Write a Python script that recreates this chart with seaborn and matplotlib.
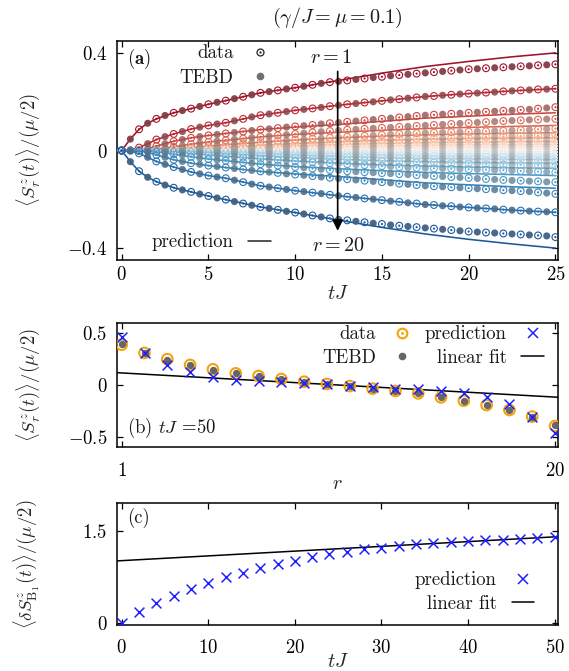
import numpy as np
import pandas as pd
import matplotlib
matplotlib.use("Agg")
import matplotlib.pyplot as plt
import seaborn as sns
from matplotlib.lines import Line2D

# ---------------- panel (a): <S^z_r(t)> for r = 1..20 ----------------
R_VALUES = list(range(1, 21))
T_PRED = [0, 0.5, 1, 1.5, 2, 3, 4, 5, 6, 8, 10, 12.5, 15, 17.5, 20, 22.5, 25]
T_NUM = list(np.arange(0, 25.001, 0.5))   # data at integer tJ, TEBD at half-integer tJ

PRED_R1 = [0, 0.047, 0.087, 0.112, 0.130, 0.155, 0.172, 0.190, 0.205, 0.237, 0.258, 0.288, 0.318, 0.345, 0.366, 0.385, 0.401]
PRED_R2 = [0, 0.003, 0.012, 0.028, 0.045, 0.068, 0.088, 0.103, 0.114, 0.145, 0.165, 0.186, 0.204, 0.222, 0.234, 0.245, 0.254]
PRED_R3 = [0, 0.000, 0.002, 0.008, 0.018, 0.038, 0.052, 0.062, 0.070, 0.086, 0.096, 0.107, 0.120, 0.133, 0.141, 0.149, 0.155]
PRED_R4 = [0, 0, 0, 0.002, 0.005, 0.015, 0.026, 0.035, 0.042, 0.056, 0.066, 0.075, 0.083, 0.090, 0.095, 0.099, 0.103]
PRED_R5 = [0, 0, 0, 0, 0.001, 0.006, 0.012, 0.018, 0.024, 0.034, 0.043, 0.052, 0.059, 0.064, 0.068, 0.071, 0.073]
PRED_R6 = [0, 0, 0, 0, 0, 0.002, 0.005, 0.009, 0.013, 0.021, 0.028, 0.036, 0.042, 0.046, 0.049, 0.051, 0.052]
PRED_R7 = [0, 0, 0, 0, 0, 0, 0.002, 0.004, 0.007, 0.012, 0.018, 0.024, 0.029, 0.032, 0.034, 0.036, 0.037]
PRED_R8 = [0, 0, 0, 0, 0, 0, 0, 0.001, 0.003, 0.006, 0.010, 0.014, 0.018, 0.021, 0.023, 0.024, 0.025]
PRED_R9 = [0, 0, 0, 0, 0, 0, 0, 0, 0.001, 0.003, 0.005, 0.008, 0.010, 0.012, 0.013, 0.014, 0.015]
PRED_R10 = [0, 0, 0, 0, 0, 0, 0, 0, 0, 0.001, 0.002, 0.003, 0.003, 0.004, 0.004, 0.005, 0.005]
PRED_R11 = [0, 0, 0, 0, 0, 0, 0, 0, 0, -0.001, -0.002, -0.003, -0.003, -0.004, -0.004, -0.005, -0.005]
PRED_R12 = [0, 0, 0, 0, 0, 0, 0, 0, -0.001, -0.003, -0.005, -0.008, -0.010, -0.012, -0.013, -0.014, -0.015]
PRED_R13 = [0, 0, 0, 0, 0, 0, 0, -0.001, -0.003, -0.006, -0.010, -0.014, -0.018, -0.021, -0.023, -0.024, -0.025]
PRED_R14 = [0, 0, 0, 0, 0, 0, -0.002, -0.004, -0.007, -0.012, -0.018, -0.024, -0.029, -0.032, -0.034, -0.036, -0.037]
PRED_R15 = [0, 0, 0, 0, 0, -0.002, -0.005, -0.009, -0.013, -0.021, -0.028, -0.036, -0.042, -0.046, -0.049, -0.051, -0.052]
PRED_R16 = [0, 0, 0, 0, -0.001, -0.006, -0.012, -0.018, -0.024, -0.034, -0.043, -0.052, -0.059, -0.064, -0.068, -0.071, -0.073]
PRED_R17 = [0, 0, 0, -0.002, -0.005, -0.015, -0.026, -0.035, -0.042, -0.056, -0.066, -0.075, -0.083, -0.090, -0.095, -0.099, -0.103]
PRED_R18 = [0, 0, -0.002, -0.008, -0.018, -0.038, -0.052, -0.062, -0.070, -0.086, -0.096, -0.107, -0.120, -0.133, -0.141, -0.149, -0.155]
PRED_R19 = [0, -0.003, -0.012, -0.028, -0.045, -0.068, -0.088, -0.103, -0.114, -0.145, -0.165, -0.186, -0.204, -0.222, -0.234, -0.245, -0.254]
PRED_R20 = [0, -0.046, -0.085, -0.110, -0.128, -0.153, -0.170, -0.187, -0.202, -0.232, -0.255, -0.286, -0.316, -0.343, -0.365, -0.384, -0.401]

NUM_R1 = [0, 0.047, 0.087, 0.112, 0.130, 0.144, 0.155, 0.164, 0.172, 0.181, 0.190, 0.198, 0.205, 0.213, 0.221, 0.229, 0.237, 0.242, 0.247, 0.253, 0.258, 0.264, 0.270, 0.276, 0.281, 0.284, 0.288, 0.292, 0.296, 0.300, 0.303, 0.307, 0.310, 0.313, 0.316, 0.319, 0.322, 0.325, 0.328, 0.331, 0.334, 0.336, 0.338, 0.340, 0.342, 0.344, 0.346, 0.348, 0.350, 0.352, 0.354]
NUM_R2 = [0, 0.003, 0.012, 0.028, 0.045, 0.057, 0.068, 0.078, 0.088, 0.096, 0.103, 0.109, 0.114, 0.122, 0.130, 0.138, 0.145, 0.150, 0.155, 0.160, 0.165, 0.169, 0.173, 0.177, 0.182, 0.186, 0.190, 0.193, 0.197, 0.200, 0.204, 0.208, 0.211, 0.215, 0.218, 0.222, 0.224, 0.227, 0.229, 0.232, 0.234, 0.236, 0.238, 0.240, 0.243, 0.245, 0.247, 0.249, 0.251, 0.252, 0.254]
NUM_R3 = [0, 0, 0.002, 0.008, 0.018, 0.028, 0.038, 0.045, 0.052, 0.057, 0.062, 0.066, 0.070, 0.074, 0.078, 0.082, 0.086, 0.089, 0.092, 0.096, 0.099, 0.102, 0.105, 0.109, 0.112, 0.115, 0.118, 0.121, 0.124, 0.127, 0.130, 0.133, 0.136, 0.139, 0.142, 0.145, 0.147, 0.149, 0.151, 0.153, 0.155, 0.157, 0.159, 0.161, 0.163, 0.165, 0.167, 0.169, 0.172, 0.175, 0.178]
NUM_R4 = [0, 0, 0, 0.002, 0.005, 0.010, 0.015, 0.020, 0.026, 0.031, 0.035, 0.039, 0.042, 0.046, 0.049, 0.053, 0.056, 0.059, 0.062, 0.065, 0.068, 0.071, 0.074, 0.077, 0.080, 0.082, 0.085, 0.087, 0.089, 0.091, 0.093, 0.095, 0.097, 0.099, 0.101, 0.103, 0.105, 0.107, 0.109, 0.111, 0.113, 0.115, 0.117, 0.119, 0.121, 0.123, 0.124, 0.126, 0.127, 0.129, 0.130]
NUM_R5 = [0, 0, 0, 0, 0.001, 0.003, 0.006, 0.009, 0.012, 0.015, 0.018, 0.021, 0.024, 0.027, 0.029, 0.032, 0.034, 0.037, 0.039, 0.042, 0.044, 0.046, 0.048, 0.050, 0.052, 0.054, 0.056, 0.058, 0.060, 0.062, 0.064, 0.066, 0.068, 0.070, 0.071, 0.072, 0.073, 0.074, 0.075, 0.076, 0.077, 0.078, 0.079, 0.080, 0.081, 0.082, 0.084, 0.085, 0.087, 0.088, 0.090]
NUM_R6 = [0, 0, 0, 0, 0, 0.001, 0.002, 0.003, 0.005, 0.007, 0.009, 0.011, 0.013, 0.015, 0.017, 0.019, 0.021, 0.023, 0.025, 0.027, 0.028, 0.030, 0.032, 0.034, 0.035, 0.036, 0.038, 0.039, 0.041, 0.042, 0.043, 0.045, 0.046, 0.047, 0.048, 0.049, 0.050, 0.051, 0.052, 0.053, 0.054, 0.055, 0.056, 0.057, 0.058, 0.059, 0.060, 0.061, 0.062, 0.063, 0.065]
NUM_R7 = [0, 0, 0, 0, 0, 0, 0, 0.001, 0.002, 0.003, 0.004, 0.005, 0.007, 0.008, 0.009, 0.011, 0.012, 0.013, 0.015, 0.016, 0.018, 0.019, 0.020, 0.022, 0.023, 0.024, 0.025, 0.026, 0.027, 0.028, 0.029, 0.030, 0.031, 0.032, 0.033, 0.034, 0.035, 0.036, 0.037, 0.037, 0.038, 0.039, 0.040, 0.040, 0.041, 0.042, 0.042, 0.043, 0.044, 0.044, 0.045]
NUM_R8 = [0, 0, 0, 0, 0, 0, 0, 0, 0, 0.001, 0.001, 0.002, 0.003, 0.004, 0.004, 0.005, 0.006, 0.007, 0.008, 0.009, 0.010, 0.011, 0.012, 0.013, 0.014, 0.015, 0.016, 0.016, 0.017, 0.018, 0.019, 0.020, 0.020, 0.021, 0.022, 0.022, 0.023, 0.024, 0.024, 0.025, 0.025, 0.026, 0.026, 0.027, 0.027, 0.028, 0.028, 0.029, 0.029, 0.030, 0.030]
NUM_R9 = [0, 0, 0, 0, 0, 0, 0, 0, 0, 0, 0, 0, 0.001, 0.001, 0.002, 0.002, 0.003, 0.003, 0.004, 0.004, 0.005, 0.005, 0.006, 0.007, 0.007, 0.008, 0.009, 0.009, 0.010, 0.010, 0.011, 0.011, 0.012, 0.012, 0.013, 0.013, 0.014, 0.014, 0.014, 0.015, 0.015, 0.015, 0.016, 0.016, 0.016, 0.017, 0.017, 0.017, 0.017, 0.018, 0.018]
NUM_R10 = [0, 0, 0, 0, 0, 0, 0, 0, 0, 0, 0, 0, 0, 0, 0, 0, 0, 0, 0, 0, 0.001, 0.001, 0.001, 0.001, 0.002, 0.002, 0.002, 0.002, 0.003, 0.003, 0.003, 0.003, 0.003, 0.004, 0.004, 0.004, 0.004, 0.004, 0.004, 0.005, 0.005, 0.005, 0.005, 0.005, 0.005, 0.005, 0.006, 0.006, 0.006, 0.006, 0.006]
NUM_R11 = [0, 0, 0, 0, 0, 0, 0, 0, 0, 0, 0, 0, 0, 0, 0, 0, 0, 0, 0, 0, -0.001, -0.001, -0.001, -0.001, -0.002, -0.002, -0.002, -0.002, -0.003, -0.003, -0.003, -0.003, -0.003, -0.004, -0.004, -0.004, -0.004, -0.004, -0.004, -0.005, -0.005, -0.005, -0.005, -0.005, -0.005, -0.005, -0.006, -0.006, -0.006, -0.006, -0.006]
NUM_R12 = [0, 0, 0, 0, 0, 0, 0, 0, 0, 0, 0, 0, -0.001, -0.001, -0.002, -0.002, -0.003, -0.003, -0.004, -0.004, -0.005, -0.005, -0.006, -0.007, -0.007, -0.008, -0.009, -0.009, -0.010, -0.010, -0.011, -0.011, -0.012, -0.012, -0.013, -0.013, -0.014, -0.014, -0.014, -0.015, -0.015, -0.015, -0.016, -0.016, -0.016, -0.017, -0.017, -0.017, -0.017, -0.018, -0.018]
NUM_R13 = [0, 0, 0, 0, 0, 0, 0, 0, 0, -0.001, -0.001, -0.002, -0.003, -0.004, -0.004, -0.005, -0.006, -0.007, -0.008, -0.009, -0.010, -0.011, -0.012, -0.013, -0.014, -0.015, -0.016, -0.016, -0.017, -0.018, -0.019, -0.020, -0.020, -0.021, -0.022, -0.022, -0.023, -0.024, -0.024, -0.025, -0.025, -0.026, -0.026, -0.027, -0.027, -0.028, -0.028, -0.029, -0.029, -0.030, -0.030]
NUM_R14 = [0, 0, 0, 0, 0, 0, 0, -0.001, -0.002, -0.003, -0.004, -0.005, -0.007, -0.008, -0.009, -0.011, -0.012, -0.013, -0.015, -0.016, -0.018, -0.019, -0.020, -0.022, -0.023, -0.024, -0.025, -0.026, -0.027, -0.028, -0.029, -0.030, -0.031, -0.032, -0.033, -0.034, -0.035, -0.036, -0.037, -0.037, -0.038, -0.039, -0.040, -0.040, -0.041, -0.042, -0.042, -0.043, -0.044, -0.044, -0.045]
NUM_R15 = [0, 0, 0, 0, 0, -0.001, -0.002, -0.003, -0.005, -0.007, -0.009, -0.011, -0.013, -0.015, -0.017, -0.019, -0.021, -0.023, -0.025, -0.027, -0.028, -0.030, -0.032, -0.034, -0.035, -0.036, -0.038, -0.039, -0.041, -0.042, -0.043, -0.045, -0.046, -0.047, -0.048, -0.049, -0.050, -0.051, -0.052, -0.053, -0.054, -0.055, -0.056, -0.057, -0.058, -0.059, -0.060, -0.061, -0.062, -0.063, -0.065]
NUM_R16 = [0, 0, 0, 0, -0.001, -0.003, -0.006, -0.009, -0.012, -0.015, -0.018, -0.021, -0.024, -0.027, -0.029, -0.032, -0.034, -0.037, -0.039, -0.042, -0.044, -0.046, -0.048, -0.050, -0.052, -0.054, -0.056, -0.058, -0.060, -0.062, -0.064, -0.066, -0.068, -0.070, -0.071, -0.072, -0.073, -0.074, -0.075, -0.076, -0.077, -0.078, -0.079, -0.080, -0.081, -0.082, -0.084, -0.085, -0.087, -0.088, -0.090]
NUM_R17 = [0, 0, 0, -0.002, -0.005, -0.010, -0.015, -0.020, -0.026, -0.031, -0.035, -0.039, -0.042, -0.046, -0.049, -0.053, -0.056, -0.059, -0.062, -0.065, -0.068, -0.071, -0.074, -0.077, -0.080, -0.082, -0.085, -0.087, -0.089, -0.091, -0.093, -0.095, -0.097, -0.099, -0.101, -0.103, -0.105, -0.107, -0.109, -0.111, -0.113, -0.115, -0.117, -0.119, -0.121, -0.123, -0.124, -0.126, -0.127, -0.129, -0.130]
NUM_R18 = [0, 0, -0.002, -0.008, -0.018, -0.028, -0.038, -0.045, -0.052, -0.057, -0.062, -0.066, -0.070, -0.074, -0.078, -0.082, -0.086, -0.089, -0.092, -0.096, -0.099, -0.102, -0.105, -0.109, -0.112, -0.115, -0.118, -0.121, -0.124, -0.127, -0.130, -0.133, -0.136, -0.139, -0.142, -0.145, -0.147, -0.149, -0.151, -0.153, -0.155, -0.157, -0.159, -0.161, -0.163, -0.165, -0.167, -0.169, -0.172, -0.175, -0.178]
NUM_R19 = [0, -0.003, -0.012, -0.028, -0.045, -0.057, -0.068, -0.078, -0.088, -0.096, -0.103, -0.109, -0.114, -0.122, -0.130, -0.138, -0.145, -0.150, -0.155, -0.160, -0.165, -0.169, -0.173, -0.177, -0.182, -0.186, -0.190, -0.193, -0.197, -0.200, -0.204, -0.208, -0.211, -0.215, -0.218, -0.222, -0.224, -0.227, -0.229, -0.232, -0.234, -0.236, -0.238, -0.240, -0.243, -0.245, -0.247, -0.249, -0.251, -0.252, -0.254]
NUM_R20 = [0, -0.046, -0.085, -0.110, -0.128, -0.142, -0.153, -0.162, -0.170, -0.179, -0.187, -0.195, -0.202, -0.210, -0.218, -0.225, -0.232, -0.238, -0.244, -0.250, -0.255, -0.261, -0.267, -0.273, -0.279, -0.283, -0.287, -0.291, -0.295, -0.299, -0.302, -0.306, -0.309, -0.312, -0.315, -0.318, -0.321, -0.324, -0.327, -0.330, -0.333, -0.335, -0.337, -0.339, -0.341, -0.343, -0.345, -0.347, -0.349, -0.351, -0.356]

PRED_A = [PRED_R1, PRED_R2, PRED_R3, PRED_R4, PRED_R5, PRED_R6, PRED_R7, PRED_R8, PRED_R9, PRED_R10,
          PRED_R11, PRED_R12, PRED_R13, PRED_R14, PRED_R15, PRED_R16, PRED_R17, PRED_R18, PRED_R19, PRED_R20]
NUM_A = [NUM_R1, NUM_R2, NUM_R3, NUM_R4, NUM_R5, NUM_R6, NUM_R7, NUM_R8, NUM_R9, NUM_R10,
         NUM_R11, NUM_R12, NUM_R13, NUM_R14, NUM_R15, NUM_R16, NUM_R17, NUM_R18, NUM_R19, NUM_R20]

# ---------------- panel (b): profile at tJ = 50 ----------------
R_B = list(range(1, 21))
DATA_B = [0.39, 0.31, 0.25, 0.194, 0.152, 0.113, 0.087, 0.058, 0.032, 0.010, -0.010, -0.035, -0.058, -0.081, -0.120, -0.152, -0.194, -0.242, -0.306, -0.397]
TEBD_B = [0.40, 0.31, 0.245, 0.195, 0.150, 0.115, 0.087, 0.058, 0.032, 0.010, -0.010, -0.035, -0.058, -0.081, -0.120, -0.152, -0.194, -0.242, -0.310, -0.390]
PRED_B = [0.468, 0.31, 0.19, 0.13, 0.08, 0.048, 0.039, 0.032, 0.016, 0.010, -0.006, -0.016, -0.035, -0.042, -0.058, -0.081, -0.119, -0.184, -0.306, -0.461]
FIT_B = (0.129, -0.0123)       # intercept, slope

# ---------------- panel (c): boundary magnetisation ----------------
T_C = [0, 2, 4, 6, 8, 10, 12, 14, 16, 18, 20, 22, 24, 26, 28, 30, 32, 34, 36, 38, 40, 42, 44, 46, 48, 50]
PRED_C = [0, 0.18, 0.32, 0.44, 0.55, 0.65, 0.74, 0.82, 0.90, 0.96, 1.01, 1.07, 1.12, 1.16, 1.20, 1.23, 1.25, 1.28, 1.30, 1.32, 1.34, 1.35, 1.36, 1.37, 1.39, 1.41]
FIT_C = (1.015, 0.0078)        # intercept, slope

# ---------------- styling ----------------
sns.set_theme(style="ticks")
plt.rcParams.update({
    "font.family": "serif",
    "font.serif": ["cmr10", "DejaVu Serif"],
    "mathtext.fontset": "cm",
    "axes.unicode_minus": False,
    "axes.formatter.use_mathtext": True,
    "text.color": "#1a1a1a",
})

FS = 13.5
ORANGE = "#f5a30a"
BLUE = "#1f1fff"
GRAY = "#666666"

cmap = plt.get_cmap("RdBu")
pal = {r: cmap(v) for r, v in zip(R_VALUES, np.linspace(0.08, 0.92, len(R_VALUES)))}
# TEBD dots: colour pulled towards dark grey; inner (near-zero) curves drawn more transparent
pal_dark = {}
for r, c in pal.items():
    rgb = 0.5 * np.array(c[:3]) + 0.5 * 0.40
    a = 0.25 + 0.7 * (abs(r - 10.5) / 9.5) ** 0.8
    pal_dark[r] = (rgb[0], rgb[1], rgb[2], a)

fig = plt.figure(figsize=(5.69, 6.71), dpi=100)
W, H = 569.0, 671.0


def rect(x0, x1, y0, y1):
    return [x0 / W, 1 - y1 / H, (x1 - x0) / W, (y1 - y0) / H]


axA = fig.add_axes(rect(117, 558, 41, 260))
axB = fig.add_axes(rect(117, 558, 323, 447))
axC = fig.add_axes(rect(117, 558, 503, 625))


def style(ax, xpad):
    ax.tick_params(axis="both", which="both", direction="in", top=True, right=True,
                   length=4.5, width=0.9, labelsize=FS, colors="black")
    ax.tick_params(axis="x", pad=xpad)
    ax.tick_params(axis="y", pad=7)
    for s in ax.spines.values():
        s.set_visible(True)
        s.set_linewidth(1.1)
        s.set_color("black")


def mtex(vals):
    return [r"$%s$" % v for v in vals]


# ---- panel (a) ----
rows_p, rows_d, rows_t = [], [], []
for r, pv, nv in zip(R_VALUES, PRED_A, NUM_A):
    for t, v in zip(T_PRED, pv):
        rows_p.append((r, t, v))
    for i, (t, v) in enumerate(zip(T_NUM, nv)):
        (rows_d if i % 2 == 0 else rows_t).append((r, t, v))
dfp = pd.DataFrame(rows_p, columns=["r", "t", "S"])
dfd = pd.DataFrame(rows_d, columns=["r", "t", "S"])
dft = pd.DataFrame(rows_t, columns=["r", "t", "S"])

sns.lineplot(data=dfp, x="t", y="S", hue="r", palette=pal, legend=False, ax=axA,
             linewidth=1.15, estimator=None, sort=False, zorder=2)
sns.scatterplot(data=dfd, x="t", y="S", hue="r", palette=pal, legend=False, ax=axA,
                s=24, linewidth=0, zorder=3)
ring = axA.collections[-1]
ring.set_edgecolors(ring.get_facecolors())
ring.set_facecolors("none")
ring.set_linewidths(0.8)
sns.scatterplot(data=dfd, x="t", y="S", hue="r", palette=pal, legend=False, ax=axA,
                s=2.5, linewidth=0, zorder=3)
sns.scatterplot(data=dft, x="t", y="S", hue="r", palette=pal_dark, legend=False, ax=axA,
                s=26, linewidth=0, zorder=3)

axA.set_xlim(-0.27, 25.15)
axA.set_ylim(-0.45, 0.45)
XT_A = [0, 5, 10, 15, 20, 25]
YT_A = [-0.4, 0, 0.4]
axA.set_xticks(XT_A)
axA.set_xticklabels(mtex(["0", "5", "10", "15", "20", "25"]))
axA.set_yticks(YT_A)
axA.set_yticklabels(mtex(["-0.4", "0", "0.4"]))
style(axA, 4)
axA.set_xlabel(r"$tJ$", fontsize=FS + 1, labelpad=1)
axA.set_ylabel(r"$\langle S^z_r(t)\rangle/(\mu/2)$", fontsize=FS)
axA.yaxis.set_label_coords(-0.17, 0.5)

axA.annotate("", xy=(12.45, -0.33), xytext=(12.45, 0.325),
             arrowprops=dict(arrowstyle="-|>", color="black", lw=1.2, mutation_scale=16,
                             shrinkA=0, shrinkB=0), zorder=5)
axA.text(12.1, 0.379, r"$r = 1$", ha="center", va="center", fontsize=FS + 1)
axA.text(12.5, -0.393, r"$r = 20$", ha="center", va="center", fontsize=FS + 1)
axA.text(0.022, 0.918, r"$\mathbf{(a)}$", transform=axA.transAxes, ha="left", va="center", fontsize=FS)

h_data = (Line2D([], [], ls="none", marker="o", mfc="none", mec="#222222", ms=5, mew=0.9),
          Line2D([], [], ls="none", marker="o", mfc="#222222", mec="none", ms=1.6))
h_tebd = Line2D([], [], ls="none", marker="o", mfc="#707070", mec="none", ms=5.5)
h_pred = Line2D([], [], color="#222222", lw=1.1)
legA1 = axA.legend([h_data, h_tebd], ["data", "TEBD"], loc="upper right", bbox_to_anchor=(0.349, 0.985),
                   frameon=False, markerfirst=False, fontsize=FS, handlelength=1.2, handletextpad=0.8,
                   borderpad=0, borderaxespad=0, labelspacing=0.35)
axA.add_artist(legA1)
axA.legend([h_pred], ["prediction"], loc="lower right", bbox_to_anchor=(0.349, 0.04),
           frameon=False, markerfirst=False, fontsize=FS, handlelength=1.2, handletextpad=0.8,
           borderpad=0, borderaxespad=0)

# ---- panel (b) ----
dfb = pd.DataFrame({"r": R_B, "data": DATA_B, "tebd": TEBD_B, "pred": PRED_B})
sns.scatterplot(data=dfb, x="r", y="data", color=ORANGE, s=58, linewidth=0, ax=axB, zorder=3)
ob = axB.collections[-1]
ob.set_facecolors("none")
ob.set_edgecolors(ORANGE)
ob.set_linewidths(1.5)
sns.scatterplot(data=dfb, x="r", y="data", color=ORANGE, s=4, linewidth=0, ax=axB, zorder=3)
sns.scatterplot(data=dfb, x="r", y="tebd", color=GRAY, s=28, linewidth=0, ax=axB, zorder=4)
sns.scatterplot(data=dfb, x="r", y="pred", color=BLUE, marker="x", s=50, linewidth=1.1, ax=axB, zorder=5)
xb_lim = (0.794, 20.13)
rb = np.array(xb_lim)
sns.lineplot(x=rb, y=FIT_B[0] + FIT_B[1] * rb, color="black", linewidth=1.1, ax=axB, zorder=2)
axB.set_xlim(*xb_lim)
axB.set_ylim(-0.6, 0.6)
axB.set_xticks([1, 20])
axB.set_xticklabels(mtex(["1", "20"]))
axB.set_yticks([-0.5, 0, 0.5])
axB.set_yticklabels(mtex(["-0.5", "0", "0.5"]))
style(axB, 11)
axB.set_xlabel(r"$r$", fontsize=FS + 1, labelpad=-4)
axB.set_ylabel(r"$\langle S^z_r(t)\rangle/(\mu/2)$", fontsize=FS)
axB.yaxis.set_label_coords(-0.17, 0.5)
axB.text(0.022, 0.155, r"(b) $tJ$ =50", transform=axB.transAxes, ha="left", va="center", fontsize=FS)

hb_data = (Line2D([], [], ls="none", marker="o", mfc="none", mec=ORANGE, ms=7, mew=1.5),
           Line2D([], [], ls="none", marker="o", mfc=ORANGE, mec="none", ms=2))
hb_tebd = Line2D([], [], ls="none", marker="o", mfc=GRAY, mec="none", ms=5.5)
hb_pred = Line2D([], [], ls="none", marker="x", color=BLUE, ms=7, mew=1.1)
hb_fit = Line2D([], [], color="black", lw=1.1)
axB.legend([hb_data, hb_tebd, hb_pred, hb_fit], ["data", "TEBD", "prediction", "linear fit"], ncol=2,
           loc="upper right", bbox_to_anchor=(0.968, 0.98), frameon=False, markerfirst=False,
           fontsize=FS, handlelength=1.2, handletextpad=0.8, columnspacing=0.6,
           borderpad=0, borderaxespad=0, labelspacing=0.3)

# ---- panel (c) ----
dfc = pd.DataFrame({"t": T_C, "pred": PRED_C})
sns.scatterplot(data=dfc, x="t", y="pred", color=BLUE, marker="x", s=50, linewidth=1.1, ax=axC, zorder=4)
xc_lim = (-0.55, 50.4)
tc = np.array(xc_lim)
sns.lineplot(x=tc, y=FIT_C[0] + FIT_C[1] * tc, color="black", linewidth=1.1, ax=axC, zorder=3)
axC.set_xlim(*xc_lim)
axC.set_ylim(-0.04, 1.96)
axC.set_xticks([0, 10, 20, 30, 40, 50])
axC.set_xticklabels(mtex(["0", "10", "20", "30", "40", "50"]))
axC.set_yticks([0, 1.5])
axC.set_yticklabels(mtex(["0", "1.5"]))
style(axC, 10)
axC.set_xlabel(r"$tJ$", fontsize=FS + 1, labelpad=-3)
axC.set_ylabel(r"$\langle\delta S^z_{\mathrm{B}_1}(t)\rangle/(\mu/2)$", fontsize=FS)
axC.yaxis.set_label_coords(-0.17, 0.5)
axC.text(0.022, 0.875, r"(c)", transform=axC.transAxes, ha="left", va="center", fontsize=FS)

hc_pred = Line2D([], [], ls="none", marker="x", color=BLUE, ms=7, mew=1.1)
hc_fit = Line2D([], [], color="black", lw=1.1)
axC.legend([hc_pred, hc_fit], ["prediction", "linear fit"], loc="lower right",
           bbox_to_anchor=(0.946, 0.1), frameon=False, markerfirst=False, fontsize=FS,
           handlelength=1.2, handletextpad=0.8, borderpad=0, borderaxespad=0, labelspacing=0.3)

fig.text(337 / W, 1 - 18 / H, r"$(\gamma/J=\mu=0.1)$", ha="center", va="center", fontsize=FS + 1)

fig.savefig("out.png", dpi=100)
